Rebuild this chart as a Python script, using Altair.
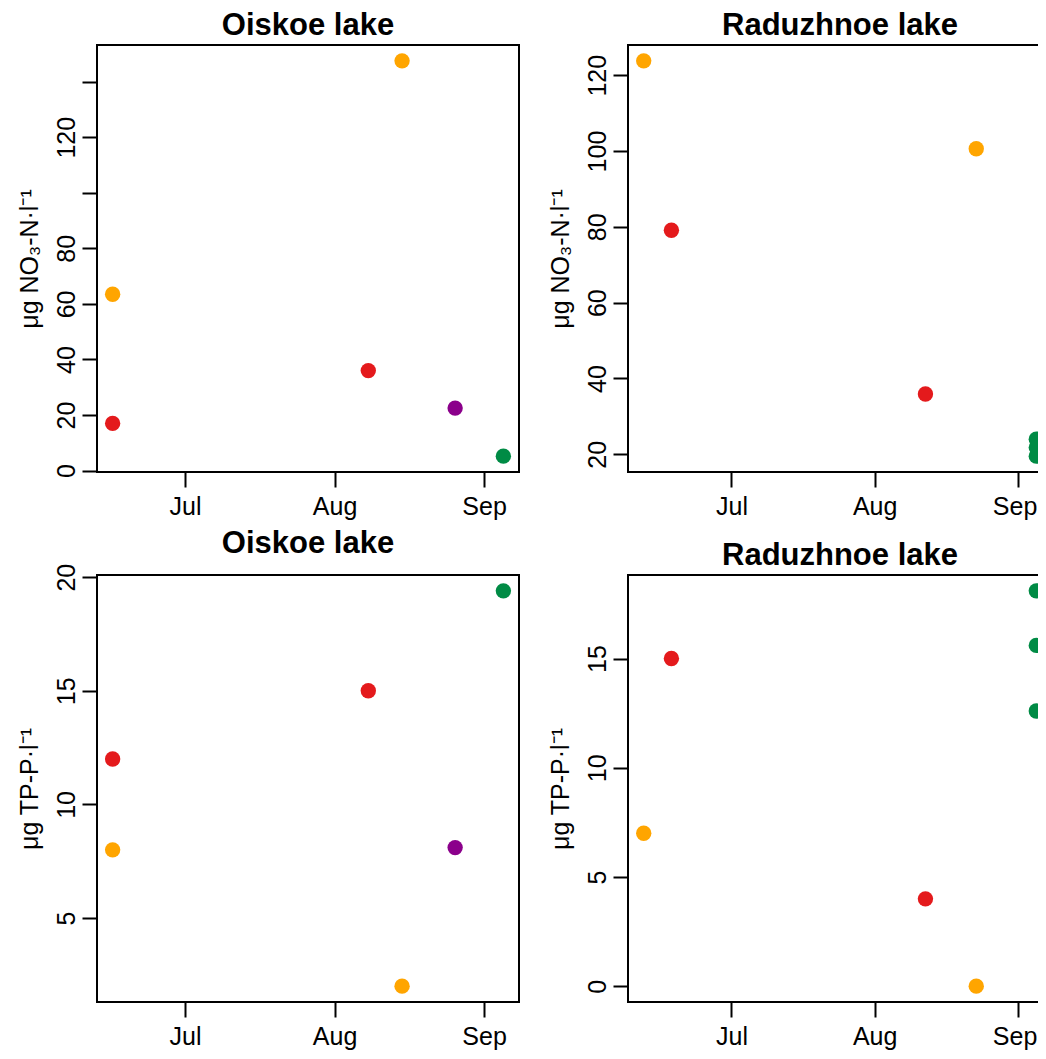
import altair as alt
import pandas as pd

# ---------------- data ----------------
group_names = ["Group 1", "Group 2", "Group 3", "Group 4"]
group_colors = ["#FFA500", "#E41A1C", "#8B008B", "#008B45"]

oiskoe_dates = ["2019-06-16", "2019-06-16", "2019-08-08", "2019-08-15", "2019-08-26", "2019-09-05"]
oiskoe_groups = ["Group 1", "Group 2", "Group 2", "Group 1", "Group 3", "Group 4"]
oiskoe_no3 = [63.5, 17.0, 36.0, 147.5, 22.5, 5.2]
oiskoe_tp = [8.0, 12.0, 15.0, 2.0, 8.1, 19.4]

raduzh_dates = ["2019-06-12", "2019-06-18", "2019-08-12", "2019-08-23", "2019-09-05", "2019-09-05", "2019-09-05"]
raduzh_groups = ["Group 1", "Group 2", "Group 2", "Group 1", "Group 4", "Group 4", "Group 4"]
raduzh_no3 = [123.8, 79.1, 35.9, 100.6, 24.0, 21.8, 19.5]
raduzh_tp = [7.0, 15.0, 4.0, 0.0, 18.1, 15.6, 12.6]

month_ticks = ["2019-07-01", "2019-08-01", "2019-09-01"]

no3_label = "μg NO₃-N·l⁻¹"
tp_label = "μg TP-P·l⁻¹"

FONT = "Liberation Sans"

LEFT_W = 422
RIGHT_W = 424
PANEL_H = 427


def ms(ts):
    return int(pd.Timestamp(ts).value // 10**6)


def panel(dates, groups, values, title, yticks, ylabel, width, hide_labels=(), at_edge=False):
    df = pd.DataFrame({"date": dates, "group": groups, "value": values})
    d = pd.to_datetime(df["date"])
    lo, hi = d.min(), d.max()
    span = hi - lo
    xdom = [ms(lo - 0.04 * span), ms(hi + 0.04 * span)]
    vmin, vmax = min(values), max(values)
    vr = vmax - vmin
    ydom = [vmin - 0.04 * vr, vmax + 0.04 * vr]
    if hide_labels:
        arr = ",".join(str(v) for v in hide_labels)
        label_expr = f"indexof([{arr}], datum.value) >= 0 ? '' : datum.label"
    else:
        label_expr = "datum.label"

    xaxis_kw = dict(
        values=[ms(t) for t in month_ticks],
        format="%b",
        title=None,
        labelBaseline="alphabetic",
        labelPadding=27,
    )
    if at_edge:
        # keep the last month label inside the page
        xaxis_kw.update(labelFlush=40, labelFlushOffset=19)

    return (
        alt.Chart(df)
        .mark_circle(size=236, opacity=1)
        .encode(
            x=alt.X(
                "date:T",
                scale=alt.Scale(type="utc", domain=xdom, nice=False),
                axis=alt.Axis(**xaxis_kw),
            ),
            y=alt.Y(
                "value:Q",
                scale=alt.Scale(domain=ydom, nice=False, zero=False),
                axis=alt.Axis(
                    values=yticks,
                    title=ylabel,
                    labelAngle=-90,
                    labelAlign="center",
                    labelBaseline="alphabetic",
                    labelPadding=8,
                    labelExpr=label_expr,
                    labelOverlap=False,
                    titleBaseline="alphabetic",
                    titlePadding=17,
                ),
            ),
            color=alt.Color(
                "group:N",
                scale=alt.Scale(domain=group_names, range=group_colors),
                legend=None,
            ),
        )
        .properties(
            width=width,
            height=PANEL_H,
            title=alt.TitleParams(
                text=title,
                frame="group",
                anchor="middle",
                fontSize=31,
                fontWeight="bold",
                font=FONT,
                offset=3,
                color="black",
            ),
        )
    )


p1 = panel(oiskoe_dates, oiskoe_groups, oiskoe_no3, "Oiskoe lake",
           [0, 20, 40, 60, 80, 100, 120, 140], no3_label, LEFT_W, hide_labels=(100, 140))
p2 = panel(raduzh_dates, raduzh_groups, raduzh_no3, "Raduzhnoe lake",
           [20, 40, 60, 80, 100, 120], no3_label, RIGHT_W, at_edge=True)
p3 = panel(oiskoe_dates, oiskoe_groups, oiskoe_tp, "Oiskoe lake",
           [5, 10, 15, 20], tp_label, LEFT_W)
p4 = panel(raduzh_dates, raduzh_groups, raduzh_tp, "Raduzhnoe lake",
           [0, 5, 10, 15], tp_label, RIGHT_W, at_edge=True)

# The right column runs past the page edge in the reference: a negative right
# padding lets the drawing be cut there instead of widening the page.
chart = (
    alt.concat(p1, p2, p3, p4, columns=2, spacing={"row": 103, "column": 109},
               bounds="flush", align="each")
    .properties(padding={"left": 8, "top": 1, "right": -15, "bottom": 5}, background="white")
    .configure_view(stroke="black", strokeWidth=2)
    .configure_axis(
        grid=False,
        domain=False,
        ticks=True,
        tickColor="black",
        tickWidth=2,
        tickSize=15,
        labelFont=FONT,
        labelFontSize=25,
        labelColor="black",
        titleFont=FONT,
        titleFontSize=25,
        titleFontWeight="normal",
        titleColor="black",
    )
)

chart.save("out.html", embed_options={"renderer": "svg", "actions": False})
